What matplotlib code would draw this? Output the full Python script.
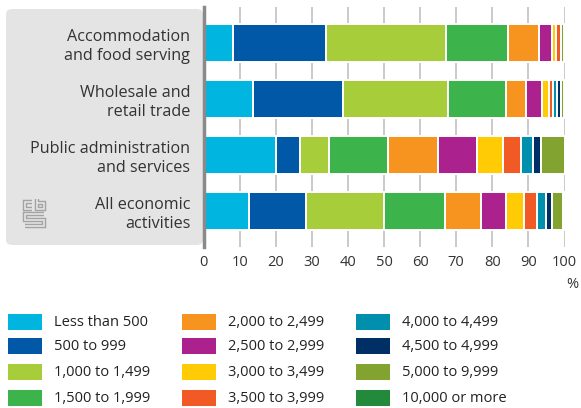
import numpy as np
import matplotlib
matplotlib.use("Agg")
import matplotlib.pyplot as plt
from matplotlib.patches import Rectangle, FancyBboxPatch

plt.rcParams['font.family'] = ['Open Sans', 'DejaVu Sans']

# Sectors (top to bottom)
sectors = ["Accommodation\nand food serving",
           "Wholesale and\nretail trade",
           "Public administration\nand services",
           "All economic\nactivities"]

# Income classes
classes = ["Less than 500", "500 to 999", "1,000 to 1,499", "1,500 to 1,999",
           "2,000 to 2,499", "2,500 to 2,999", "3,000 to 3,499", "3,500 to 3,999",
           "4,000 to 4,499", "4,500 to 4,999", "5,000 to 9,999", "10,000 or more"]

colors = ["#00b5e0", "#0058a6", "#a8cd3a", "#3cb44b",
          "#f7941f", "#ab218e", "#ffcb05", "#f15a25",
          "#0090ae", "#002f66", "#82a330", "#228a3a"]

# share (%) per class, one list per sector
accommodation = [8.3, 25.7, 33.1, 17.2, 8.6, 3.5, 1.3, 1.3, 0.0, 0.0, 1.0, 0.0]
wholesale = [13.7, 24.9, 29.1, 16.2, 5.5, 4.3, 2.1, 1.0, 1.2, 1.0, 1.0, 0.0]
public_admin = [20.1, 6.5, 8.2, 16.3, 13.9, 10.7, 7.3, 4.9, 3.3, 2.4, 6.4, 0.0]
all_activities = [12.7, 15.8, 21.6, 16.9, 9.8, 7.1, 4.9, 3.5, 2.6, 1.6, 3.2, 0.3]

data = np.array([accommodation, wholesale, public_admin, all_activities])

W, H = 581, 408
fig = plt.figure(figsize=(W / 100, H / 100), dpi=100)

def fx(px):
    return px / W

def fy(py):
    return 1 - py / H

# grey label panel
panel = FancyBboxPatch((fx(6), fy(245)), fx(203) - fx(6), fy(9) - fy(245),
                       boxstyle="round,pad=0,rounding_size=0.012",
                       transform=fig.transFigure, facecolor="#e4e4e4",
                       edgecolor="none", zorder=-1)
fig.patches.append(panel)

ax = fig.add_axes([fx(203.5), fy(247), fx(564.5) - fx(203.5), fy(7) - fy(247)])
ax.patch.set_alpha(0)

y = np.arange(len(sectors))
left = np.zeros(len(sectors))
for i, cls in enumerate(classes):
    widths = data[:, i]
    lw = [1.4 if v > 0 else 0 for v in widths]
    ax.barh(y, widths, left=left, height=0.68, color=colors[i],
            edgecolor="white", linewidth=lw, zorder=3)
    left += widths

ax.set_xlim(0, 100)
ax.set_ylim(3.64, -0.64)
ax.set_xticks(np.arange(0, 101, 10))
ax.set_yticks(y)
ax.set_yticklabels(sectors, fontsize=11.6, color="#222222", linespacing=1.22,
                   ha="right")
ax.tick_params(axis="both", length=0, colors="#333333")
ax.tick_params(axis="y", pad=9.5)
ax.tick_params(axis="x", pad=6, labelsize=10.5)
ax.grid(axis="x", color="#c6c6c6", linewidth=1.3, zorder=0)
ax.set_axisbelow(True)
for s in ["top", "right", "bottom"]:
    ax.spines[s].set_visible(False)
ax.spines["left"].set_color("#8a8a8a")
ax.spines["left"].set_linewidth(2.5)
ax.spines["left"].set_zorder(5)

fig.text(fx(572), fy(285), "%", fontsize=10.5, color="#333333",
         ha="center", va="center")

# grey cbs logo, drawn as outlined strokes
logo = [
    [(32, 202), (25, 202), (25, 209), (32, 209)],
    [(37, 198.5), (37, 209), (44, 209), (44, 203), (37, 203)],
    [(44, 214), (25, 214), (25, 220), (44, 220), (44, 226), (25, 226)],
]
for pts in logo:
    xs = [fx(p[0]) for p in pts]
    ys = [fy(p[1]) for p in pts]
    fig.add_artist(plt.Line2D(xs, ys, color="#a3a3a3", linewidth=3.2,
                              solid_joinstyle="miter", solid_capstyle="butt",
                              transform=fig.transFigure))
    fig.add_artist(plt.Line2D(xs, ys, color="#e4e4e4", linewidth=1.2,
                              solid_joinstyle="miter", solid_capstyle="butt",
                              transform=fig.transFigure))

# legend
col_x = [8, 182, 356]
row_y = [322, 346, 372, 398]
for i, (cls, c) in enumerate(zip(classes, colors)):
    col, row = divmod(i, 4)
    x0, yc = col_x[col], row_y[row]
    fig.patches.append(Rectangle((fx(x0), fy(yc + 8)), fx(34), 16 / H,
                                 transform=fig.transFigure, facecolor=c,
                                 edgecolor="none"))
    fig.text(fx(x0 + 46), fy(yc), cls, fontsize=10.5, color="#222222",
             ha="left", va="center")

fig.savefig("out.png", dpi=100)
